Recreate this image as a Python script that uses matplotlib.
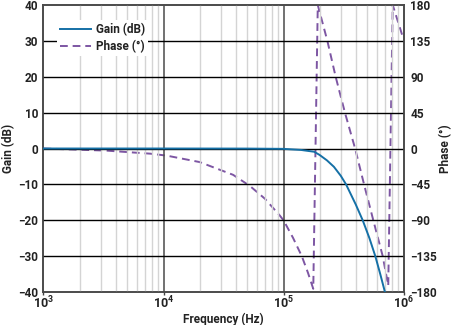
import matplotlib
matplotlib.use("Agg")
import matplotlib.pyplot as plt

plt.rcParams['font.family'] = ['Roboto', 'DejaVu Sans']
plt.rcParams['mathtext.fontset'] = 'custom'
plt.rcParams['mathtext.rm'] = 'Roboto:bold'
plt.rcParams['mathtext.bf'] = 'Roboto:bold'

# Gain response (dB) versus frequency (Hz)
gain_freq = [1e3, 1e4, 5e4, 1e5, 1.4e5, 1.8e5, 2.0e5, 2.3e5, 2.63e5, 3.0e5,
             3.32e5, 4.0e5, 4.57e5, 5.2e5, 5.82e5, 6.4e5, 7.0e5, 7.5e5]
gain_db = [0.0, 0.0, -0.02, -0.1, -0.4, -0.9, -1.8, -3.3, -5.1, -7.6,
           -10.0, -15.6, -20.0, -25.0, -30.0, -35.0, -40.0, -44.0]

# Phase response (degrees), wrapped to +/-180
phase_freq = [1e3, 2e3, 3.4e3, 5e3, 7.8e3, 1.07e4, 2e4, 3.8e4, 5.25e4, 7e4,
              9.3e4, 1e5, 1.2e5, 1.42e5, 1.6e5, 1.77e5, 1.93e5, 2.32e5,
              2.72e5, 3.25e5, 3.95e5, 4.69e5, 5.6e5, 6.71e5, 7.46e5, 8.13e5,
              1e6]
phase_deg = [0, -1.5, -2.7, -4.5, -6.5, -9, -17, -33, -47, -63,
             -84, -90, -112, -135, -156, -176, 180, 135,
             90, 45, 0, -45, -90, -135, -172, 180,
             137]

gain_ticks = [-40, -30, -20, -10, 0, 10, 20, 30, 40]
phase_ticks = [-180, -135, -90, -45, 0, 45, 90, 135, 180]
freq_ticks = [1e3, 1e4, 1e5, 1e6]
freq_labels = [r'$\mathbf{10^{3}}$', r'$\mathbf{10^{4}}$',
               r'$\mathbf{10^{5}}$', r'$\mathbf{10^{6}}$']

gain_color = '#1570a6'
phase_color = '#7d56a3'
label_kw = dict(fontsize=8.5, fontweight='bold', color='#222222')

fig = plt.figure(figsize=(4.54, 3.25), dpi=100)
ax = fig.add_axes([0.0958, 0.1015, 0.793, 0.8831])
ax2 = ax.twinx()

ax.set_xscale('log')
ax.set_xlim(1e3, 1e6)
ax.set_ylim(-40, 40)
ax2.set_ylim(-180, 180)

# Vertical grid: light minor lines, darker decade lines
for dec in [1e3, 1e4, 1e5]:
    for m in range(2, 10):
        ax.axvline(dec * m, color='#d4d4d4', lw=1.0, zorder=0)
for dec in [1e4, 1e5]:
    ax.axvline(dec, color='#4a4a4a', lw=1.1, zorder=0.5)
# Horizontal grid
for g in gain_ticks[1:-1]:
    ax.axhline(g, color='black', lw=1.0, zorder=0.6)

ax.plot(gain_freq, gain_db, color=gain_color, lw=1.4, zorder=3,
        label='Gain (dB)')
ax.plot([], [], color=phase_color, lw=1.4, ls=(0, (4, 2.5)),
        label='Phase (°)')
ax2.plot(phase_freq, phase_deg, color=phase_color, lw=1.4,
         ls=(0, (4, 2.5)), zorder=3)

ax.set_yticks(gain_ticks)
ax.set_yticklabels([f'{v}'.replace('-', '\u2212') for v in gain_ticks],
                   **label_kw)
ax2.set_yticks(phase_ticks)
ax2.set_yticklabels([f'{v}'.replace('-', '\u2212') for v in phase_ticks],
                    **label_kw)
ax.set_xticks(freq_ticks)
ax.set_xticklabels(freq_labels, fontsize=9, color='#222222')
ax.xaxis.set_minor_locator(matplotlib.ticker.NullLocator())

ax.tick_params(axis='y', length=0, pad=4)
ax2.tick_params(axis='y', length=0, pad=5)
ax.tick_params(axis='x', length=2, width=1, color='#444444', pad=0)

ax.set_xlabel('Frequency (Hz)', labelpad=1, **label_kw)
ax.set_ylabel('Gain (dB)', labelpad=2, **label_kw)
ax2.set_ylabel('Phase (°)', labelpad=1, **label_kw)

for a in (ax, ax2):
    for s in a.spines.values():
        s.set_color('#4a4a4a')
        s.set_linewidth(1.2)

ax.set_zorder(ax2.get_zorder() + 1)
ax.patch.set_visible(False)

leg = ax.legend(loc='upper left', bbox_to_anchor=(0.02, 0.97), frameon=True,
                fancybox=False, framealpha=1, facecolor='white',
                edgecolor='none', prop=dict(size=8.5, weight='bold'),
                handlelength=2.6, handletextpad=0.4, borderpad=0.3,
                labelspacing=0.3)
for t in leg.get_texts():
    t.set_color('#222222')

fig.savefig('out.png', dpi=100)
